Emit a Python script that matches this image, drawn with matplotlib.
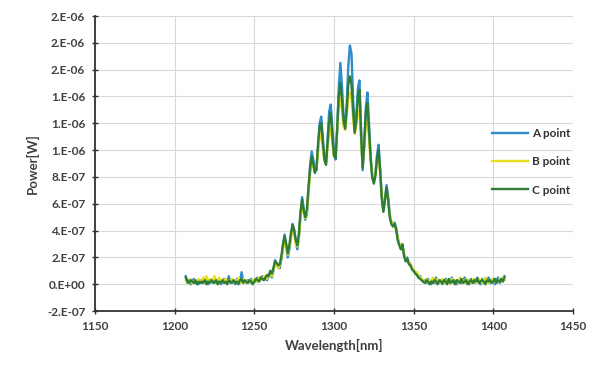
import numpy as np
import matplotlib
matplotlib.use("Agg")
import matplotlib.pyplot as plt
from matplotlib.ticker import FuncFormatter

# wavelength grid (1 nm steps) and power readings in units of 1e-7 W
wavelength = np.arange(1207, 1408)

a_point = [
    0.6, 0.1, 0.3, 0.0, 0.2, 0.4, 0.1, 0.2, 0.0, 0.3,
    0.1, 0.2, 0.4, 0.1, 0.0, 0.3, 0.2, 0.1, 0.5, 0.2,
    0.1, 0.3, 0.0, 0.2, 0.4, 0.1, 0.2, 0.6, 0.1, 0.3,
    0.2, 0.0, 0.4, 0.2, 0.1, 0.9, 0.3, 0.2, 0.1, 0.3,
    0.2, 0.4, 0.1, 0.3, 0.2, 0.5, 0.3, 0.4, 0.6, 0.5,
    0.4, 0.3, 0.6, 0.9, 0.5, 1.0, 1.8, 1.5, 1.3, 1.2,
    1.9, 2.8, 3.7, 2.9, 2.0, 2.6, 3.6, 4.5, 4.1, 3.2,
    2.6, 3.5, 5.2, 6.5, 5.6, 4.8, 5.2, 7.0, 8.8, 9.9,
    9.3, 8.6, 8.5, 10.2, 12.0, 12.5, 11.0, 9.4, 9.0, 10.8,
    12.9, 13.4, 11.6, 9.8, 9.3, 11.5, 14.6, 16.5, 14.8, 12.6,
    11.7, 13.4, 16.3, 17.8, 17.2, 13.9, 11.5, 12.4, 14.6, 15.2,
    11.5, 8.5, 10.6, 13.2, 14.3, 12.0, 9.6, 8.0, 7.6, 8.3,
    9.6, 10.4, 8.6, 6.6, 5.5, 6.4, 7.4, 6.5, 5.2, 4.6,
    4.4, 4.6, 4.2, 3.4, 3.0, 2.8, 3.0, 2.2, 1.8, 2.0,
    1.6, 1.5, 1.2, 1.0, 0.9, 0.8, 0.5, 0.6, 0.3, 0.2,
    0.3, 0.1, 0.4, 0.2, 0.0, 0.3, 0.1, 0.5, 0.2, 0.1,
    0.3, 0.0, 0.2, 0.4, 0.1, 0.3, 0.2, 0.5, 0.1, 0.2,
    0.0, 0.3, 0.4, 0.1, 0.2, 0.5, 0.1, 0.3, 0.0, 0.4,
    0.2, 0.1, 0.3, 0.5, 0.2, 0.0, 0.4, 0.1, 0.3, 0.2,
    0.5, 0.1, 0.2, 0.4, 0.0, 0.3, 0.5, 0.1, 0.2, 0.4,
    0.6,
]

b_point = [
    0.3, 0.2, 0.0, 0.4, 0.1, 0.2, 0.3, 0.1, 0.4, 0.2,
    0.3, 0.5, 0.2, 0.6, 0.3, 0.1, 0.4, 0.2, 0.6, 0.3,
    0.2, 0.5, 0.1, 0.3, 0.2, 0.4, 0.1, 0.3, 0.2, 0.4,
    0.1, 0.3, 0.2, 0.5, 0.1, 0.2, 0.4, 0.1, 0.3, 0.2,
    0.1, 0.3, 0.2, 0.4, 0.3, 0.2, 0.5, 0.3, 0.4, 0.6,
    0.5, 0.4, 0.7, 0.8, 0.6, 1.1, 1.6, 1.4, 1.2, 1.4,
    2.0, 2.6, 3.4, 2.7, 2.2, 2.8, 3.5, 4.2, 3.8, 3.0,
    2.8, 3.6, 5.0, 6.1, 5.3, 4.9, 5.4, 6.8, 8.2, 9.0,
    8.8, 8.4, 8.7, 9.8, 11.0, 11.2, 10.1, 9.2, 9.1, 10.2,
    11.3, 11.6, 10.5, 9.5, 9.6, 11.4, 13.2, 13.8, 13.0, 11.8,
    11.5, 12.6, 13.9, 14.3, 13.8, 12.4, 11.2, 11.8, 12.8, 13.0,
    10.8, 8.9, 10.2, 11.9, 12.2, 10.8, 9.2, 8.2, 7.8, 8.2,
    9.1, 9.6, 8.2, 6.6, 5.8, 6.4, 7.0, 6.2, 5.1, 4.7,
    4.5, 4.4, 4.0, 3.5, 3.1, 2.7, 2.8, 2.3, 1.9, 1.8,
    1.7, 1.4, 1.3, 1.1, 0.8, 0.9, 0.6, 0.5, 0.4, 0.3,
    0.2, 0.4, 0.1, 0.3, 0.2, 0.5, 0.3, 0.1, 0.4, 0.2,
    0.1, 0.4, 0.2, 0.1, 0.3, 0.2, 0.0, 0.4, 0.2, 0.3,
    0.2, 0.1, 0.5, 0.2, 0.3, 0.1, 0.4, 0.2, 0.3, 0.1,
    0.3, 0.4, 0.1, 0.2, 0.4, 0.3, 0.1, 0.2, 0.5, 0.3,
    0.1, 0.2, 0.4, 0.3, 0.2, 0.1, 0.3, 0.4, 0.2, 0.5,
    0.3,
]

c_point = [
    0.5, 0.2, 0.1, 0.3, 0.2, 0.1, 0.3, 0.0, 0.2, 0.1,
    0.2, 0.1, 0.3, 0.0, 0.2, 0.1, 0.3, 0.2, 0.1, 0.3,
    0.0, 0.2, 0.1, 0.3, 0.1, 0.2, 0.0, 0.3, 0.2, 0.1,
    0.3, 0.1, 0.2, 0.0, 0.3, 0.4, 0.1, 0.3, 0.2, 0.1,
    0.3, 0.2, 0.0, 0.2, 0.4, 0.3, 0.2, 0.5, 0.4, 0.3,
    0.5, 0.7, 0.6, 1.0, 0.8, 1.2, 1.7, 1.6, 1.4, 1.5,
    2.1, 3.0, 3.6, 3.0, 2.3, 2.9, 3.8, 4.4, 4.0, 3.3,
    2.9, 3.8, 5.4, 6.3, 5.5, 5.0, 5.6, 7.2, 8.6, 9.5,
    9.0, 8.3, 8.6, 10.4, 11.8, 12.0, 10.6, 9.3, 8.9, 10.5,
    12.2, 12.8, 11.0, 9.6, 9.4, 11.6, 14.0, 15.0, 13.8, 12.2,
    11.6, 13.0, 14.9, 15.5, 14.9, 13.0, 11.3, 12.2, 14.0, 14.5,
    11.2, 8.7, 10.4, 12.8, 13.5, 11.4, 9.4, 8.0, 7.5, 8.1,
    9.3, 10.0, 8.4, 6.4, 5.4, 6.3, 7.2, 6.3, 5.0, 4.5,
    4.3, 4.5, 4.1, 3.3, 2.9, 2.6, 2.9, 2.1, 1.7, 1.9,
    1.5, 1.4, 1.1, 1.0, 0.8, 0.7, 0.5, 0.4, 0.3, 0.2,
    0.1, 0.3, 0.2, 0.0, 0.2, 0.1, 0.3, 0.2, 0.0, 0.3,
    0.2, 0.1, 0.3, 0.2, 0.0, 0.4, 0.1, 0.2, 0.3, 0.0,
    0.3, 0.2, 0.1, 0.4, 0.1, 0.2, 0.3, 0.0, 0.2, 0.3,
    0.1, 0.3, 0.2, 0.4, 0.1, 0.2, 0.3, 0.2, 0.0, 0.3,
    0.2, 0.3, 0.1, 0.2, 0.4, 0.1, 0.3, 0.2, 0.4, 0.2,
    0.5,
]

labels = ["A point", "B point", "C point"]
colors = ["#2E8CCB", "#E8DE1E", "#2F7D34"]

plt.rcParams['font.family'] = ['Lato', 'DejaVu Sans']

fig = plt.figure(figsize=(5.91, 3.69), dpi=100)
ax = fig.add_axes([0.1607, 0.157, 0.8088, 0.7996])

for vals, lab, col in zip([a_point, b_point, c_point], labels, colors):
    ax.plot(wavelength, np.array(vals) * 1e-7, color=col, lw=1.7, label=lab)

ax.set_xlim(1150, 1450)
ax.set_ylim(-2e-7, 2e-6)
ax.set_xticks(np.arange(1150, 1451, 50))
ax.set_yticks(np.arange(-2e-7, 2.01e-6, 2e-7))


def excel_sci(v, pos):
    s = "%.0E" % v
    return s.replace("E", ".E")


ax.yaxis.set_major_formatter(FuncFormatter(excel_sci))
ax.grid(True, color="#d9d9d9", lw=0.8)
ax.set_axisbelow(True)
for side in ["top", "right"]:
    ax.spines[side].set_visible(False)
for side in ["left", "bottom"]:
    ax.spines[side].set_color("#333333")
    ax.spines[side].set_linewidth(1.3)
ax.tick_params(direction="inout", length=4, width=1, color="#333333",
               labelsize=8.5, labelcolor="#404040", pad=5)
for t in ax.get_xticklabels() + ax.get_yticklabels():
    t.set_fontweight("bold")

ax.set_xlabel("Wavelength[nm]", fontsize=9.5, fontweight="bold", color="#404040", labelpad=5)
ax.set_ylabel("Power[W]", fontsize=9.5, fontweight="bold", color="#404040", labelpad=6)

leg = ax.legend(loc="center right", bbox_to_anchor=(0.975, 0.561),
                bbox_transform=fig.transFigure, frameon=False,
                fontsize=8.5, handlelength=3.1, labelspacing=1.45,
                handletextpad=0.3, borderpad=0)
for t in leg.get_texts():
    t.set_fontweight("bold")
    t.set_color("#333333")

fig.savefig("out.png", dpi=100)
